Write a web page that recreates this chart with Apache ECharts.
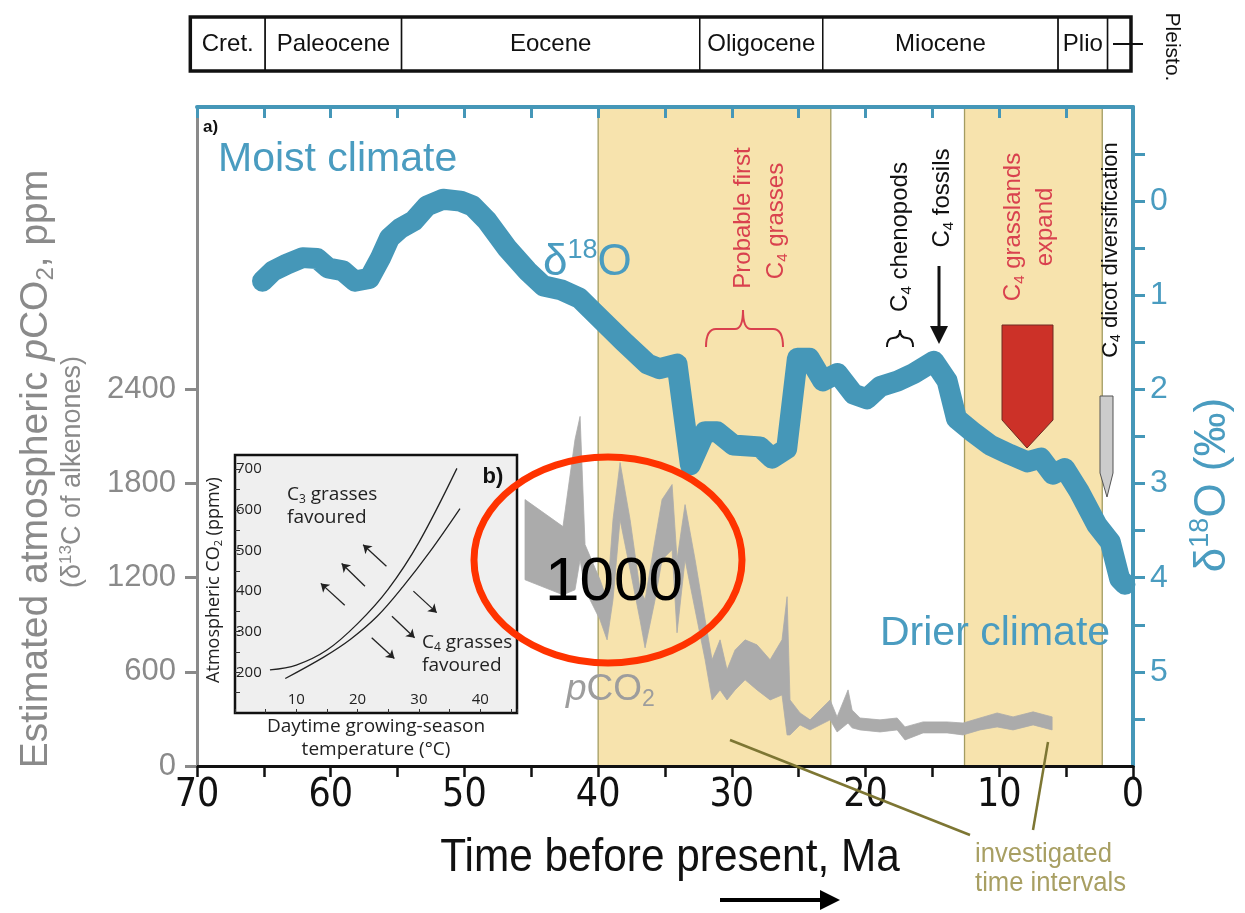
<!DOCTYPE html>
<html><head><meta charset="utf-8">
<script src="https://cdn.jsdelivr.net/npm/echarts@6/dist/echarts.min.js"></script>
<style>html,body{margin:0;padding:0;background:#fff}#c{width:1245px;height:913px}</style>
</head><body><div id="c"></div>
<script>
// ---------- DATA ----------
// delta18O curve (Ma, per mil)
const d18oAge = [65.1,64.3,63.3,62.1,61.0,60.2,59.1,58.2,57.1,56.3,55.6,54.8,53.8,52.8,51.6,50.3,49.4,48.3,46.8,45.3,44.1,42.8,41.4,39.9,38.1,36.3,35.4,34.1,33.7,33.1,32.0,31.1,29.9,27.9,27.0,25.9,25.1,24.2,23.2,22.1,20.9,19.9,18.9,17.6,16.4,14.9,13.9,13.2,12.0,10.7,9.2,7.9,6.9,6.0,5.1,4.0,2.7,1.7,1.0,0.6];
const d18oVal = [0.85,0.74,0.67,0.60,0.61,0.71,0.74,0.85,0.82,0.61,0.39,0.29,0.21,0.05,-0.02,0.00,0.05,0.21,0.50,0.74,0.90,0.94,1.03,1.24,1.49,1.73,1.78,1.73,2.16,2.80,2.45,2.45,2.59,2.61,2.73,2.63,1.67,1.67,1.91,1.83,2.05,2.10,1.97,1.91,1.83,1.70,1.91,2.31,2.45,2.59,2.69,2.77,2.73,2.90,2.84,3.09,3.44,3.62,4.01,4.07];
// pCO2 band (Ma, ppm upper / lower)
const co2Age   = [45.47,42.63,41.73,41.35,40.98,39.86,39.33,38.89,38.36,37.61,36.87,36.49,35.74,35.22,34.47,34.10,33.50,32.75,32.00,31.48,30.88,30.36,29.76,29.01,28.12,27.14,26.25,25.87,25.65,24.90,24.15,22.65,22.13,21.31,21.01,20.41,18.92,17.64,17.05,15.70,13.90,12.71,11.44,10.16,8.97,7.47,6.05];
const co2Upper = [1698,1526,2081,2228,1411,1187,1060,1570,1934,1570,1123,1060,1443,1698,1794,1315,1666,1315,932,677,804,613,740,804,772,677,804,1079,421,338,294,421,313,485,357,306,294,306,249,281,281,274,306,338,313,345,313];
const co2Lower = [1187,1091,1123,1315,1123,932,804,1060,1570,1251,932,753,1060,1315,1379,849,1315,996,677,421,485,421,485,549,485,421,453,198,198,262,230,294,217,274,243,230,217,230,166,211,211,198,230,249,230,262,230];
// investigated time intervals (Ma)
const bandStart = [40.0, 12.6];
const bandEnd   = [22.6, 2.3];
// geological periods
const periodNames  = ['Cret.','Paleocene','Eocene','Oligocene','Miocene','Plio',''];
const periodBounds = [70.5,64.9,54.7,32.4,23.2,5.6,1.9,0.15];
// axis ticks/labels
const xLabelVals = [70,60,50,40,30,20,10,0];
const co2Ticks   = [0,600,1200,1800,2400];
const d18oLabels = [0,1,2,3,4,5];
const d18oTicks  = [-0.5,0,0.5,1,1.5,2,2.5,3,3.5,4,4.5,5,5.5];
// inset (b)
const c3Temp = [5.7,10,15,20,25,30,36.2];
const c3CO2  = [206,218,255,320,405,520,702];
const c4Temp = [8.2,14.4,18.8,23.2,27.4,31.8,36.7];
const c4CO2  = [185,237,281,338,411,497,603];
const arrowsC3 = [[24.7,461,20.9,514],[21.2,412,17.4,468],[17.9,365,14.0,419]];
const arrowsC4 = [[29.1,400,32.9,347],[25.6,338,29.3,285],[22.3,285,26.0,234]];
const insetYLabels = [200,300,400,500,600,700];
const insetYTicks  = [150,200,250,300,350,400,450,500,550,600,650,700];
const insetXLabels = [10,20,30,40];

// ---------- STYLE ----------
const F  = '"Liberation Sans", Arial, sans-serif';
const FN = '"Liberation Sans Narrow", "DejaVu Sans Condensed", "Liberation Sans", sans-serif';
const FI = '"Open Sans", "Noto Sans", sans-serif';
const BLUE='#4597B8', TBLUE='#4A9CC0', GREY='#8a8a8a', RED='#D9414E', OLIVE='#7d7633', OLIVET='#A89F63';

function rich(size, color, family){
  const lh = Math.round(size*1.15), s = Math.round(size*0.62);
  return {
    n:{fontSize:size,fontFamily:family,fill:color,lineHeight:lh},
    i:{fontSize:size,fontFamily:family,fill:color,lineHeight:lh,fontStyle:'italic'},
    b:{fontSize:size,fontFamily:family,fill:color,lineHeight:lh,fontWeight:'bold'},
    sb:{fontSize:s,fontFamily:family,fill:color,lineHeight:s,verticalAlign:'bottom'},
    sp:{fontSize:s,fontFamily:family,fill:color,lineHeight:s,verticalAlign:'top'}
  };
}
const G = [];
function txt(x,y,text,r,rot,align,z,sx){
  G.push({type:'text',x:x,y:y,rotation:rot||0,z:z||50,scaleX:sx||1,
    style:{text:text,rich:r,align:align||'center',verticalAlign:'middle',textAlign:align||'center',textVerticalAlign:'middle'}});
}
function seg(x1,y1,x2,y2,color,w){ G.push({type:'line',z:50,shape:{x1:x1,y1:y1,x2:x2,y2:y2},style:{stroke:color,lineWidth:w}}); }
function curve(x1,y1,cx,cy,x2,y2,color,w){ G.push({type:'bezierCurve',z:50,shape:{x1:x1,y1:y1,cpx1:cx,cpy1:cy,x2:x2,y2:y2},style:{stroke:color,lineWidth:w,fill:null}}); }
const V = Math.PI/2;
// axis titles
txt(36,469,'{n|Estimated atmospheric }{i|p}{n|CO}{sb|2}{n|, ppm}',rich(39,GREY,F),V);
txt(73,472,'{n|(δ}{sp|13}{n|C of alkenones)}',rich(27,GREY,F),V);
txt(1213,485,'{n|δ}{sp|18}{n|O (‰)}',rich(44,TBLUE,F),V);
txt(670,858,'{n|Time before present, Ma}',rich(46,'#111',F),0,'center',50,0.92);
// labels in plot
txt(203,127,'{b|a)}',rich(17,'#111',F),0,'left');
txt(218,160,'{n|Moist climate}',rich(41,TBLUE,F),0,'left');
txt(880,634,'{n|Drier climate}',rich(41,TBLUE,F),0,'left');
txt(543,263,'{n|δ}{sp|18}{n|O}',rich(44,TBLUE,F),0,'left');
txt(566,690,'{i|p}{n|CO}{sb|2}',rich(37,'#9d9d9d',F),0,'left');
// rotated annotations
txt(743,218,'{n|Probable first}',rich(24,RED,F),V);
txt(776,221,'{n|C}{sb|4}{n| grasses}',rich(24,RED,F),V);
txt(900,237,'{n|C}{sb|4}{n| chenopods}',rich(24,'#111',F),V);
txt(942,198,'{n|C}{sb|4}{n| fossils}',rich(24,'#111',F),V);
txt(1013,227,'{n|C}{sb|4}{n| grasslands}',rich(24,RED,F),V);
txt(1045,227,'{n|expand}',rich(24,RED,F),V);
txt(1111,250,'{n|C}{sb|4}{n| dicot diversification}',rich(22,'#111',F),V);
// red brace
curve(706,347,706,329,716,329,RED,2); seg(716,329,735,329,RED,2);
curve(735,329,743,329,743,310,RED,2); curve(743,310,743,329,751,329,RED,2);
seg(751,329,773,329,RED,2); curve(773,329,783,329,783,347,RED,2);
// small black brace (chenopods)
curve(887,347,887,338,893,338,'#111',2); curve(893,338,900,338,900,330,'#111',2);
curve(900,330,900,338,907,338,'#111',2); curve(907,338,913,338,913,347,'#111',2);
// C4 fossils arrow
seg(939,266,939,330,'#111',3);
G.push({type:'polygon',z:50,shape:{points:[[930,326],[948,326],[939,344]]},style:{fill:'#111'}});
G.push({type:'polygon',z:50,shape:{points:[[1002,325],[1053,325],[1053,420],[1027,448],[1002,420]]},style:{fill:'#CC3128',stroke:'#6e2a22',lineWidth:1}});
G.push({type:'polygon',z:50,shape:{points:[[1100,396],[1113,396],[1113,473],[1107,497],[1100,473]]},style:{fill:'#cccccc',stroke:'#555',lineWidth:1}});
// investigated intervals
seg(730,740,970,835,OLIVE,2.5);
seg(1048,742,1033,830,OLIVE,2.5);
txt(975,855,'{n|investigated}',rich(27,OLIVET,F),0,'left',50,0.95);
txt(975,884,'{n|time intervals}',rich(27,OLIVET,F),0,'left',50,0.95);
// bottom arrow
seg(720,900,826,900,'#000',4);
G.push({type:'polygon',z:50,shape:{points:[[820,890],[840,900],[820,910]]},style:{fill:'#000'}});
// Pleistocene label
seg(1113,44,1143,44,'#111',2);
txt(1172,47,'{n|Pleisto.}',rich(21,'#111',F),-V);
// inset texts
txt(287,495,'{n|C}{sb|3}{n| grasses}',rich(19,'#222',FI),0,'left');
txt(287,518,'{n|favoured}',rich(19,'#222',FI),0,'left');
txt(422,643,'{n|C}{sb|4}{n| grasses}',rich(19,'#222',FI),0,'left');
txt(422,666,'{n|favoured}',rich(19,'#222',FI),0,'left');
txt(493,477,'{b|b)}',rich(22,'#111',F));
txt(214,580,'{n|Atmospheric CO}{sb|2}{n| (ppmv)}',rich(18,'#222',FI),V);
txt(376,727,'{n|Daytime growing-season}',rich(19,'#222',FI));
txt(376,750,'{n|temperature (°C)}',rich(19,'#222',FI));
// red ellipse overlay
G.push({type:'ellipse',z:60,shape:{cx:608,cy:560,rx:134,ry:103},style:{fill:'rgba(0,0,0,0)',stroke:'#FF3300',lineWidth:7}});
txt(614,583,'{n|1000}',rich(62,'#000',F),0,'center',61);

// ---------- CHART ----------
const chart = echarts.init(document.getElementById('c'), null, {renderer:'canvas'});
const noZero = {onZero:false};
const option = {
  animation:false,
  backgroundColor:'#fff',
  grid:[
    {left:197,right:112,top:107,bottom:147},
    {left:235,top:455,width:282,height:258,show:true,backgroundColor:'#efefef',borderColor:'#111',borderWidth:2.5},
    {left:197,right:112,top:17,height:54}
  ],
  xAxis:[
    {gridIndex:0,type:'value',min:0,max:70,interval:5,inverse:true,position:'bottom',z:10,
     axisLine:{onZero:false,lineStyle:{color:'#111',width:3}},
     axisTick:{length:11,lineStyle:{color:'#111',width:2.5}},
     axisLabel:{customValues:xLabelVals,formatter:v=>v%10===0?String(v):'',fontFamily:FN,fontSize:39,color:'#111',margin:10},
     splitLine:{show:false}},
    {gridIndex:0,type:'value',min:0,max:70,interval:5,inverse:true,position:'top',z:10,
     axisLine:{onZero:false,lineStyle:{color:BLUE,width:4}},
     axisTick:{inside:true,length:11,lineStyle:{color:BLUE,width:3}},
     axisLabel:{show:false},splitLine:{show:false}},
    {gridIndex:1,type:'value',min:0,max:46,interval:5,z:10,position:'bottom',
     axisLine:{show:false,onZero:false},
     axisTick:{inside:true,length:4,lineStyle:{color:'#333',width:1}},
     axisLabel:{inside:true,customValues:insetXLabels,formatter:v=>(v%10===0&&v>0&&v<46)?String(v):'',fontFamily:FI,fontSize:15,color:'#222',margin:6},
     splitLine:{show:false}},
    {gridIndex:2,type:'value',min:0,max:70,inverse:true,show:false,axisLine:noZero}
  ],
  yAxis:[
    {gridIndex:0,type:'value',min:0,max:4200,interval:600,position:'left',z:10,
     axisLine:{show:true,onZero:false,lineStyle:{color:GREY,width:3}},
     axisTick:{show:true,length:12,customValues:co2Ticks,lineStyle:{color:GREY,width:3}},
     axisLabel:{customValues:co2Ticks,formatter:v=>v<=2400?String(v):'',fontFamily:F,fontSize:31,color:GREY,margin:21},
     splitLine:{show:false}},
    {gridIndex:0,type:'value',min:-1,max:6,interval:0.5,inverse:true,position:'right',z:10,
     axisLine:{show:true,onZero:false,lineStyle:{color:BLUE,width:4}},
     axisTick:{show:true,length:12,customValues:d18oTicks,lineStyle:{color:BLUE,width:3}},
     axisLabel:{customValues:d18oLabels,formatter:v=>(Number.isInteger(v)&&v>=0&&v<=5)?String(v):'',fontFamily:F,fontSize:32,color:TBLUE,margin:17},
     splitLine:{show:false}},
    {gridIndex:1,type:'value',min:100,max:735,interval:50,z:10,position:'left',
     axisLine:{show:false,onZero:false},
     axisTick:{inside:true,length:5,customValues:insetYTicks,lineStyle:{color:'#333',width:1}},
     axisLabel:{inside:true,customValues:insetYLabels,formatter:v=>(v%100===0&&v>=200&&v<=700)?String(v):'',fontFamily:FI,fontSize:15,color:'#222',margin:1},
     splitLine:{show:false}},
    {gridIndex:2,type:'value',min:0,max:1,show:false,axisLine:noZero}
  ],
  series:[
    {type:'custom',name:'intervals',xAxisIndex:0,yAxisIndex:0,z:1,silent:true,
     data:bandStart.map((s,i)=>[s,bandEnd[i]]),encode:{x:[0,1]},
     renderItem:function(params,api){
       const p1=api.coord([api.value(0),4200]), p2=api.coord([api.value(1),0]);
       return {type:'group',children:[
         {type:'rect',shape:{x:p1[0],y:p1[1],width:p2[0]-p1[0],height:p2[1]-p1[1]},style:{fill:'#F7E3AD'}},
         {type:'line',shape:{x1:p1[0],y1:p1[1],x2:p1[0],y2:p2[1]},style:{stroke:'#A39C62',lineWidth:1.3}},
         {type:'line',shape:{x1:p2[0],y1:p1[1],x2:p2[0],y2:p2[1]},style:{stroke:'#A39C62',lineWidth:1.3}}
       ]};
     }},
    {type:'custom',name:'pCO2',xAxisIndex:0,yAxisIndex:0,z:2,silent:true,
     data:co2Age.map((a,i)=>[a,co2Lower[i],co2Upper[i]]),encode:{x:0,y:[1,2]},
     renderItem:function(params,api){
       if(params.dataIndex!==0) return null;
       const up = co2Age.map((a,i)=>api.coord([a,co2Upper[i]]));
       const lo = co2Age.map((a,i)=>api.coord([a,co2Lower[i]])).reverse();
       return {type:'polygon',shape:{points:up.concat(lo)},style:{fill:'#ababab',stroke:'#ababab',lineWidth:0.8}};
     }},
    {type:'line',name:'d18O',xAxisIndex:0,yAxisIndex:1,z:3,symbol:'none',silent:true,
     data:d18oAge.map((a,i)=>[a,d18oVal[i]]),
     lineStyle:{width:21,color:BLUE,cap:'round',join:'round'}},
    {type:'line',name:'C3',xAxisIndex:2,yAxisIndex:2,z:6,symbol:'none',smooth:0.35,silent:true,
     data:c3Temp.map((t,i)=>[t,c3CO2[i]]),lineStyle:{width:1.3,color:'#222'}},
    {type:'line',name:'C4',xAxisIndex:2,yAxisIndex:2,z:6,symbol:'none',smooth:0.35,silent:true,
     data:c4Temp.map((t,i)=>[t,c4CO2[i]]),lineStyle:{width:1.3,color:'#222'}},
    {type:'lines',coordinateSystem:'cartesian2d',xAxisIndex:2,yAxisIndex:2,z:6,silent:true,
     symbol:['none','arrow'],symbolSize:8,
     data:arrowsC3.concat(arrowsC4).map(a=>({coords:[[a[0],a[1]],[a[2],a[3]]]})),
     lineStyle:{color:'#222',width:1.3,opacity:1}},
    {type:'custom',name:'periods',xAxisIndex:3,yAxisIndex:3,z:5,silent:true,clip:false,
     data:periodNames.map((n,i)=>[periodBounds[i],periodBounds[i+1]]),encode:{x:[0,1]},
     renderItem:function(params,api){
       const a=api.coord([api.value(0),1]), b=api.coord([api.value(1),0]);
       return {type:'group',children:[
         {type:'rect',shape:{x:a[0],y:a[1],width:b[0]-a[0],height:b[1]-a[1]},style:{fill:'#fff',stroke:'#111',lineWidth:1.5}},
         {type:'text',style:{text:periodNames[params.dataIndex],x:(a[0]+b[0])/2,y:(a[1]+b[1])/2,align:'center',verticalAlign:'middle',font:'24px '+F,fill:'#111'}}
       ]};
     }},
    {type:'custom',name:'periodFrame',xAxisIndex:3,yAxisIndex:3,z:6,silent:true,clip:false,
     data:[[periodBounds[0],periodBounds[periodBounds.length-1]]],encode:{x:[0,1]},
     renderItem:function(params,api){
       const a=api.coord([api.value(0),1]), b=api.coord([api.value(1),0]);
       return {type:'rect',shape:{x:a[0],y:a[1],width:b[0]-a[0],height:b[1]-a[1]},style:{fill:'rgba(0,0,0,0)',stroke:'#111',lineWidth:3.5}};
     }}
  ],
  graphic:{elements:G}
};
chart.setOption(option);
</script>
</body></html>
